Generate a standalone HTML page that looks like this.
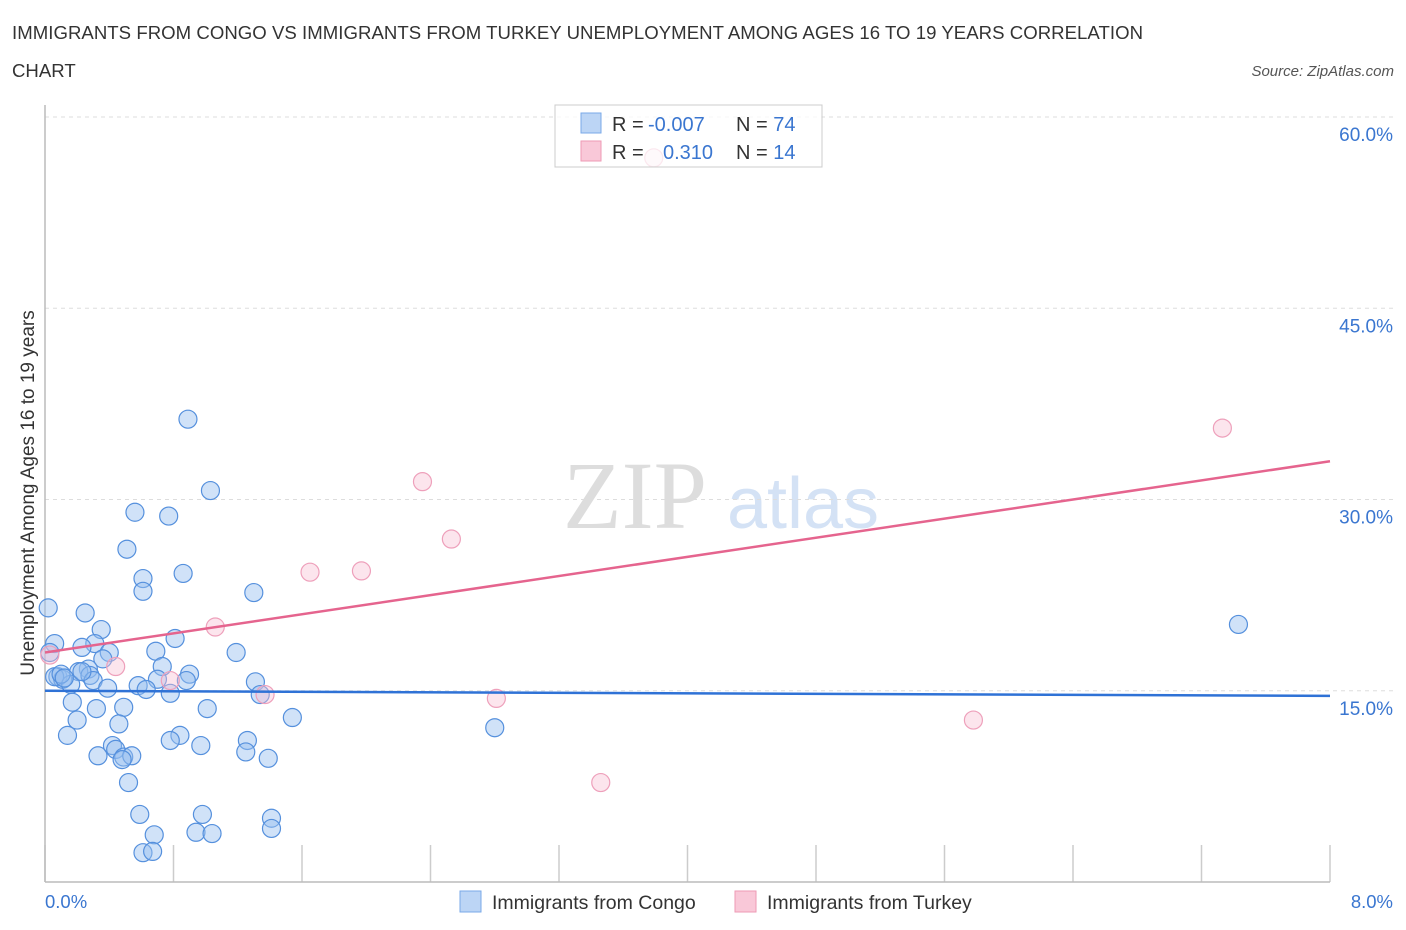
<!DOCTYPE html>
<html><head><meta charset="utf-8"><style>
body{margin:0;background:#fff;font-family:"Liberation Sans",sans-serif;}
#wrap{position:relative;width:1406px;height:930px;overflow:hidden;}
</style></head><body>
<div id="wrap">
<svg id="chart" width="1406" height="930" xmlns="http://www.w3.org/2000/svg">
<text x="12" y="39" font-size="18.6" fill="#333" textLength="1131">IMMIGRANTS FROM CONGO VS IMMIGRANTS FROM TURKEY UNEMPLOYMENT AMONG AGES 16 TO 19 YEARS CORRELATION</text>
<text x="12" y="77" font-size="18.6" fill="#333">CHART</text>
<text x="1394" y="76" font-size="15" fill="#555" font-style="italic" text-anchor="end">Source: ZipAtlas.com</text>
<text x="635" y="528" font-size="96" fill="#ddd" font-family="Liberation Serif" text-anchor="middle">ZIP</text>
<text x="803" y="528" font-size="72" fill="#d4e2f5" text-anchor="middle">atlas</text>
<g id="grid"></g><g id="axes"></g><g id="marks"></g>
<g>
<rect x="555" y="105" width="267" height="62" fill="rgba(255,255,255,0.75)" stroke="#ccc"/>
<rect x="581" y="113" width="20" height="20" fill="#bcd5f5" stroke="#7aa9e8"/>
<rect x="581" y="141" width="20" height="20" fill="#f9c8d8" stroke="#ee9ab5"/>
<text x="612" y="131" font-size="20" fill="#333">R = <tspan x="648" fill="#3a76d0">-0.007</tspan><tspan x="736">N = </tspan><tspan fill="#3a76d0">74</tspan></text>
<text x="612" y="159" font-size="20" fill="#333">R = <tspan x="663" fill="#3a76d0">0.310</tspan><tspan x="736">N = </tspan><tspan fill="#3a76d0">14</tspan></text>
</g>
<g>
<rect x="460" y="891" width="21" height="21" fill="#bcd5f5" stroke="#7aa9e8"/>
<text x="492" y="909" font-size="19.5" fill="#333">Immigrants from Congo</text>
<rect x="735" y="891" width="21" height="21" fill="#f9c8d8" stroke="#ee9ab5"/>
<text x="767" y="909" font-size="19.5" fill="#333">Immigrants from Turkey</text>
</g>
<text x="45" y="908" font-size="18.5" fill="#3a76d0">0.0%</text>
<text x="1393" y="908" font-size="18.5" fill="#3a76d0" text-anchor="end">8.0%</text>
<text transform="translate(34,493) rotate(-90)" font-size="19" fill="#333" text-anchor="middle">Unemployment Among Ages 16 to 19 years</text>
</svg>
</div>
<script>
const yTicks=[15,30,45,60];
const yTickLabels=["15.0%","30.0%","45.0%","60.0%"];
const congoX=[0.89,1.03,0.56,0.77,0.51,0.61,0.86,0.61,1.30,0.02,0.25,0.81,0.35,0.31,0.06,0.23,0.69,1.19,0.40,0.03,0.36,0.73,0.90,0.27,0.21,0.28,0.08,0.11,0.06,0.16,0.30,0.70,0.88,1.31,0.39,0.58,0.63,0.78,1.34,0.17,0.32,0.49,1.01,1.54,0.20,0.46,0.14,0.84,0.78,1.26,0.97,0.42,0.44,0.49,0.33,0.54,0.48,1.25,1.39,2.80,7.43,0.52,0.59,0.98,1.41,1.41,0.68,0.94,1.04,0.61,0.67,0.23,0.10,0.12];
const congoY=[36.3,30.7,29.0,28.7,26.1,23.8,24.2,22.8,22.7,21.5,21.1,19.1,19.8,18.7,18.7,18.4,18.1,18.0,18.0,18.0,17.5,16.9,16.3,16.7,16.5,16.2,16.1,15.9,16.1,15.5,15.8,15.9,15.8,15.7,15.2,15.4,15.1,14.8,14.7,14.1,13.6,13.7,13.6,12.9,12.7,12.4,11.5,11.5,11.1,11.1,10.7,10.7,10.4,9.8,9.9,9.9,9.6,10.2,9.7,12.1,20.2,7.8,5.3,5.3,5.0,4.2,3.7,3.9,3.8,2.3,2.4,16.5,16.3,16.0];
const turkeyX=[3.79,7.33,2.35,2.53,1.65,1.97,1.06,0.03,0.44,0.78,1.37,2.81,5.78,3.46];
const turkeyY=[56.8,35.6,31.4,26.9,24.3,24.4,20.0,17.8,16.9,15.8,14.7,14.4,12.7,7.8];
const congoTrend=[15.0,14.6];
const turkeyTrend=[18.0,33.0];
const xDomain=[0,8];
const NS="http://www.w3.org/2000/svg";
const sx=v=>45+(v-xDomain[0])/(xDomain[1]-xDomain[0])*1285;
const sy=v=>882-v*12.75;
function mk(tag,attrs,parent){const e=document.createElementNS(NS,tag);for(const k in attrs)e.setAttribute(k,attrs[k]);parent.appendChild(e);return e;}
const grid=document.getElementById('grid'),axes=document.getElementById('axes'),marks=document.getElementById('marks');
yTicks.forEach((t,i)=>{
 const l=mk('line',{x1:45,x2:1394,y1:sy(t),y2:sy(t),stroke:'#ddd','stroke-dasharray':'4,4'},grid);
 
 
 const tx=mk('text',{x:1393,y:sy(t)+24,'font-size':19,fill:'#3a76d0','text-anchor':'end'},grid);
 tx.textContent=yTickLabels[i];
 
 
});
for(let i=0;i<=10;i++){
 const v=xDomain[0]+i*(xDomain[1]-xDomain[0])/10;
 const l=mk('line',{x1:sx(v),x2:sx(v),y1:845,y2:882,stroke:'#ccc','stroke-width':1.5},axes);
 
 
}
let a=mk('line',{x1:45,x2:45,y1:105,y2:882,stroke:'#bbb','stroke-width':1.5},axes);


a=mk('line',{x1:45,x2:1330,y1:882,y2:882,stroke:'#bbb','stroke-width':1.5},axes);


congoX.forEach((x,i)=>{
 const c=mk('circle',{cx:sx(x),cy:sy(congoY[i]),r:9,fill:'rgba(150,190,240,0.45)',stroke:'#5590dd','stroke-width':1.2},marks);
 
 
});
turkeyX.forEach((x,i)=>{
 const c=mk('circle',{cx:sx(x),cy:sy(turkeyY[i]),r:9,fill:'rgba(248,190,210,0.4)',stroke:'#eea0bb','stroke-width':1.2},marks);
 
 
});
let t=mk('line',{x1:sx(0),x2:sx(8),y1:sy(congoTrend[0]),y2:sy(congoTrend[1]),stroke:'#2f72d6','stroke-width':2.5},marks);


t=mk('line',{x1:sx(0),x2:sx(8),y1:sy(turkeyTrend[0]),y2:sy(turkeyTrend[1]),stroke:'#e5648e','stroke-width':2.5},marks);


</script>
</body></html>
